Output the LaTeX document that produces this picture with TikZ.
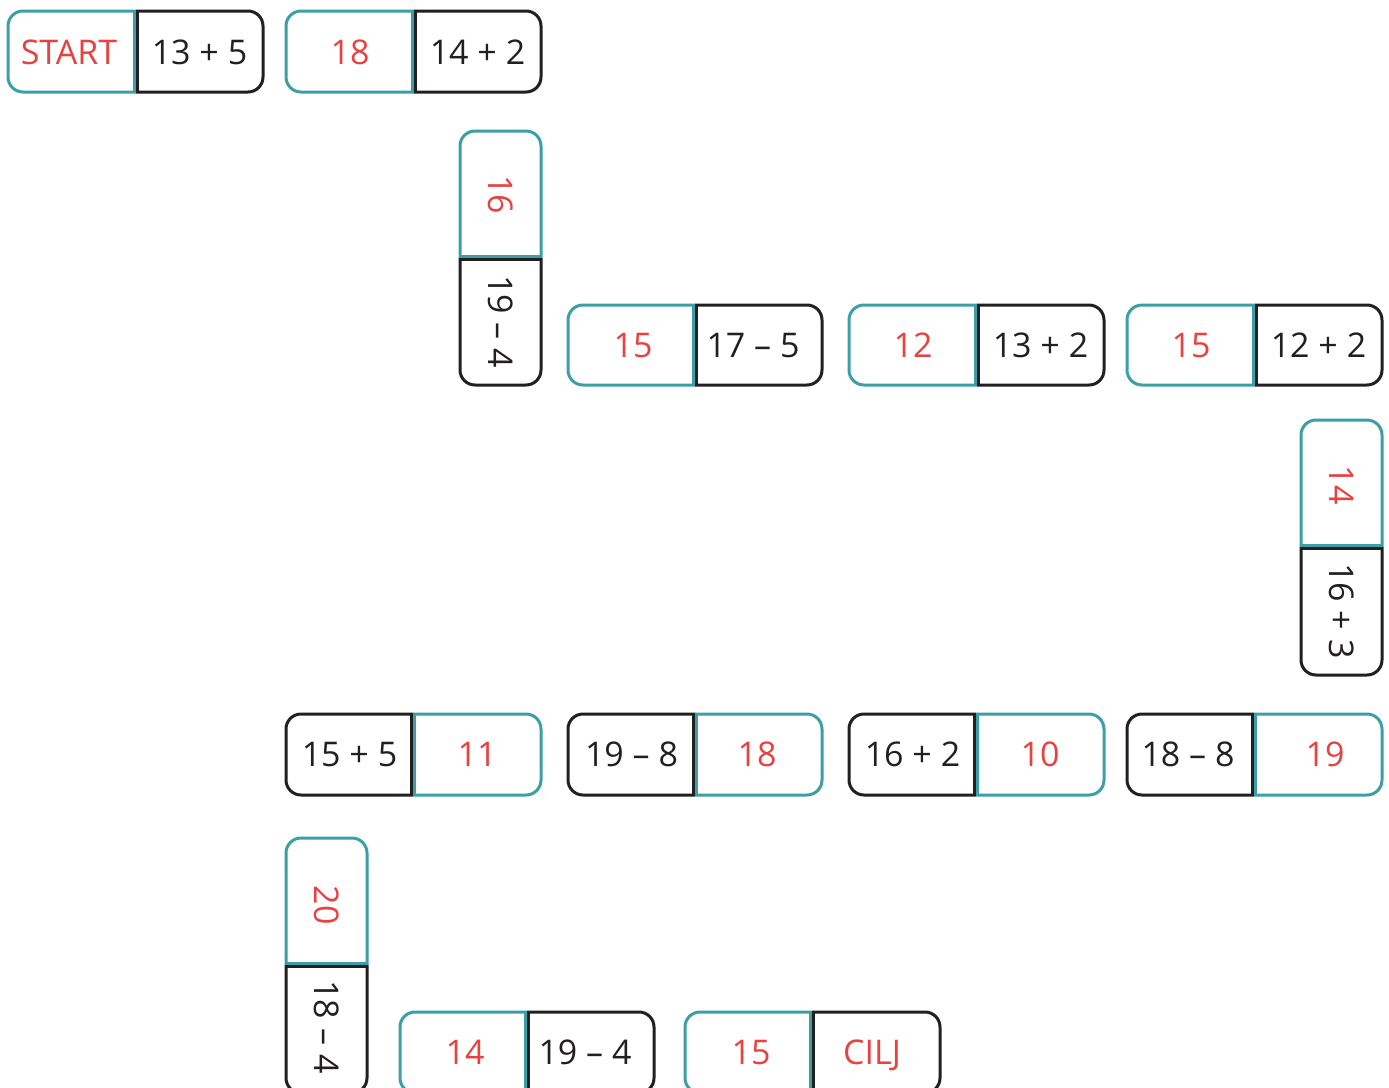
\documentclass[tikz,border=0pt]{standalone}
\usepackage{fontspec}
\setmainfont{Open Sans}
\definecolor{tl}{HTML}{3C9EA6}
\definecolor{rd}{HTML}{E8413F}
\definecolor{bk}{HTML}{231F20}
\newcommand\rr{7.5pt}
% horizontal half, rounded on left: colour, left, top, split, bottom
\newcommand\hL[5]{%
  \draw[#1,rounded corners=\rr] (#4,#3) -- (#2,#3) -- (#2,#5) -- (#4,#5);
  \draw[#1] (#4-1.5,#3) -- (#4-1.5,#5);}
% horizontal half, rounded on right: colour, split, top, right, bottom
\newcommand\hR[5]{%
  \draw[#1,rounded corners=\rr] (#2,#3) -- (#4,#3) -- (#4,#5) -- (#2,#5);
  \draw[#1] (#2+1.5,#3) -- (#2+1.5,#5);}
% vertical half, rounded on top: colour, left, top, right, split
\newcommand\vT[5]{%
  \draw[#1,rounded corners=\rr] (#2,#5) -- (#2,#3) -- (#4,#3) -- (#4,#5);
  \draw[#1] (#2,#5-1.5) -- (#4,#5-1.5);}
% vertical half, rounded on bottom: colour, left, split, right, bottom
\newcommand\vB[5]{%
  \draw[#1,rounded corners=\rr] (#2,#3) -- (#2,#5) -- (#4,#5) -- (#4,#3);
  \draw[#1] (#2,#3+1.5) -- (#4,#3+1.5);}
\begin{document}
\begin{tikzpicture}[x=0.5pt,y=-0.5pt,line width=1.5pt,
  txt/.style={font=\fontsize{17}{18}\selectfont,inner sep=0pt,text depth=0pt,anchor=center},
  rtxt/.style={txt,text=rd},
  btxt/.style={txt,text=bk}]
\useasboundingbox (0,0) rectangle (1389,1088);
\clip (0,0) rectangle (1389,1088);
% D1
\hL{tl}{8}{11}{136}{92} \hR{bk}{136}{11}{263}{92}
\node[rtxt] (d1a) at (69,52) {START};
\node[btxt] (d1b) at (199.5,52) {13 + 5};
% D2
\hL{tl}{286}{11}{414}{92} \hR{bk}{414}{11}{541}{92}
\node[rtxt] (d2a) at (350,52) {18};
\node[btxt] (d2b) at (477.5,52) {14 + 2};
% D3 vertical
\vT{tl}{460}{131}{541}{258} \vB{bk}{460}{258}{541}{385}
\node[rtxt,rotate=-90] (d3a) at (500.5,194.5) {16};
\node[btxt,rotate=-90] (d3b) at (500.5,321.5) {19 – 4};
% D4
\hL{tl}{568}{305}{695}{385} \hR{bk}{695}{305}{822}{385}
\node[rtxt] (d4a) at (633,345) {15};
\node[btxt] (d4b) at (753,345) {17 – 5};
% D5
\hL{tl}{849}{305}{977}{385} \hR{bk}{977}{305}{1104}{385}
\node[rtxt] (d5a) at (913,345) {12};
\node[btxt] (d5b) at (1040.5,345) {13 + 2};
% D6
\hL{tl}{1127}{305}{1255}{385} \hR{bk}{1255}{305}{1382}{385}
\node[rtxt] (d6a) at (1191,345) {15};
\node[btxt] (d6b) at (1318.5,345) {12 + 2};
% D7 vertical
\vT{tl}{1301}{420}{1382}{547} \vB{bk}{1301}{547}{1382}{675}
\node[rtxt,rotate=-90] (d7a) at (1341.5,485) {14};
\node[btxt,rotate=-90] (d7b) at (1341.5,611) {16 + 3};
% D8
\hL{bk}{286}{714}{413}{795} \hR{tl}{413}{714}{541}{795}
\node[btxt] (d8a) at (349.5,754.5) {15 + 5};
\node[rtxt] (d8b) at (477,754.5) {11};
% D9
\hL{bk}{568}{714}{695}{795} \hR{tl}{695}{714}{822}{795}
\node[btxt] (d9a) at (631.5,754.5) {19 – 8};
\node[rtxt] (d9b) at (757,754.5) {18};
% D10
\hL{bk}{849}{714}{976}{795} \hR{tl}{976}{714}{1104}{795}
\node[btxt] (d10a) at (912.5,754.5) {16 + 2};
\node[rtxt] (d10b) at (1040,754.5) {10};
% D11
\hL{bk}{1127}{714}{1254}{795} \hR{tl}{1254}{714}{1382}{795}
\node[btxt] (d11a) at (1188,754.5) {18 – 8};
\node[rtxt] (d11b) at (1325,754.5) {19};
% D12 vertical
\vT{tl}{286}{838}{367}{965} \vB{bk}{286}{965}{367}{1093}
\node[rtxt,rotate=-90] (d12a) at (326.5,905) {20};
\node[btxt,rotate=-90] (d12b) at (326.5,1027) {18 – 4};
% D13
\hL{tl}{400}{1012}{527}{1093} \hR{bk}{527}{1012}{654}{1093}
\node[rtxt] (d13a) at (465,1052.5) {14};
\node[btxt] (d13b) at (585,1052.5) {19 – 4};
% D14
\hL{tl}{685}{1012}{812}{1093} \hR{bk}{812}{1012}{940}{1093}
\node[rtxt] (d14a) at (751,1052.5) {15};
\node[rtxt] (d14b) at (872,1052.5) {CILJ};
\end{tikzpicture}
\end{document}
